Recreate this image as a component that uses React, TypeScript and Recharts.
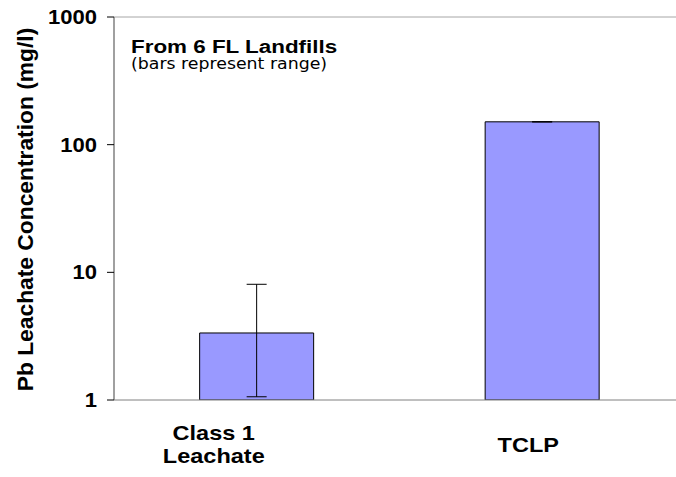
import { BarChart, Bar, XAxis, YAxis, ErrorBar, ReferenceLine, Label } from "recharts";

const categories = ["Class 1\nLeachate", "TCLP"];
const concentration = [3.35, 151];
const rangeLow = [1.06, 151];
const rangeHigh = [8.06, 151];
const yTicks = [1, 10, 100, 1000];

const FONT = '"Liberation Sans", Arial, sans-serif';
// the source picture is a bit wider than tall, so text is stretched sideways
const STRETCH = 1.12;

const data = categories.map((name, i) => ({
  name,
  value: concentration[i],
  err: [concentration[i] - rangeLow[i], rangeHigh[i] - concentration[i]],
}));

function CategoryTick(props: any) {
  const { x, y, payload, index } = props;
  const shift = [-43, -14][index] ?? 0;
  const lines = String(payload.value).split("\n");
  return (
    <g transform={`translate(${x + shift},${y}) scale(${STRETCH},1)`}>
      {lines.map((line: string, i: number) => (
        <text
          key={i}
          x={0}
          y={52 + (i - (lines.length - 1) / 2) * 23}
          textAnchor="middle"
          fontFamily={FONT}
          fontWeight="bold"
          fontSize={21}
          fill="#000"
        >
          {line}
        </text>
      ))}
    </g>
  );
}

function ValueTick(props: any) {
  const { x, y, payload } = props;
  return (
    <text
      transform={`translate(${x},${y}) scale(1.13,1)`}
      x={0}
      y={0}
      dy="0.355em"
      textAnchor="end"
      fontFamily={FONT}
      fontWeight="bold"
      fontSize={19.5}
      fill="#000"
    >
      {payload.value}
    </text>
  );
}

function AxisTitle(props: any) {
  const vb = props.viewBox || {};
  const cy = vb.y + vb.height / 2 + 1;
  return (
    <text
      transform={`translate(33,${cy}) rotate(-90)`}
      textAnchor="middle"
      fontFamily={FONT}
      fontWeight="bold"
      fontSize={22.8}
      fill="#000"
    >
      Pb Leachate Concentration (mg/l)
    </text>
  );
}

export default function App() {
  return (
    <div style={{ position: "fixed", left: 0, top: 0, width: 676, height: 477, overflow: "hidden", background: "#fff" }}>
      <BarChart
        width={690}
        height={477}
        data={data}
        margin={{ top: 17, right: 5, bottom: 0, left: 0 }}
        barCategoryGap="30%"
      >
        <XAxis
          dataKey="name"
          height={77}
          axisLine={{ stroke: "#808080", strokeWidth: 1 }}
          tickLine={false}
          tickSize={0}
          tickMargin={0}
          interval={0}
          tick={<CategoryTick />}
        />
        <YAxis
          type="number"
          scale="log"
          domain={[1, 1000]}
          ticks={yTicks}
          allowDataOverflow
          width={114}
          axisLine={{ stroke: "#808080", strokeWidth: 1.5 }}
          tickLine={{ stroke: "#000" }}
          tickSize={7}
          tickMargin={10}
          tick={<ValueTick />}
        >
          <Label content={<AxisTitle />} />
        </YAxis>
        <ReferenceLine y={1000} stroke="#a6a6a6" strokeWidth={1} />
        <Bar dataKey="value" fill="#9999ff" stroke="#000" strokeWidth={1} isAnimationActive={false}>
          <ErrorBar dataKey="err" direction="y" width={10} stroke="#000" strokeWidth={1} isAnimationActive={false} />
        </Bar>
        <text
          transform={`translate(131,52.5) scale(1.18,1)`}
          fontFamily={FONT}
          fontWeight="bold"
          fontSize={19}
          fill="#000"
        >
          From 6 FL Landfills
        </text>
        <text
          transform={`translate(131,69) scale(1.12,1)`}
          fontFamily='"DejaVu Sans", Verdana, sans-serif'
          fontSize={15.5}
          fill="#000"
        >
          (bars represent range)
        </text>
      </BarChart>
    </div>
  );
}
